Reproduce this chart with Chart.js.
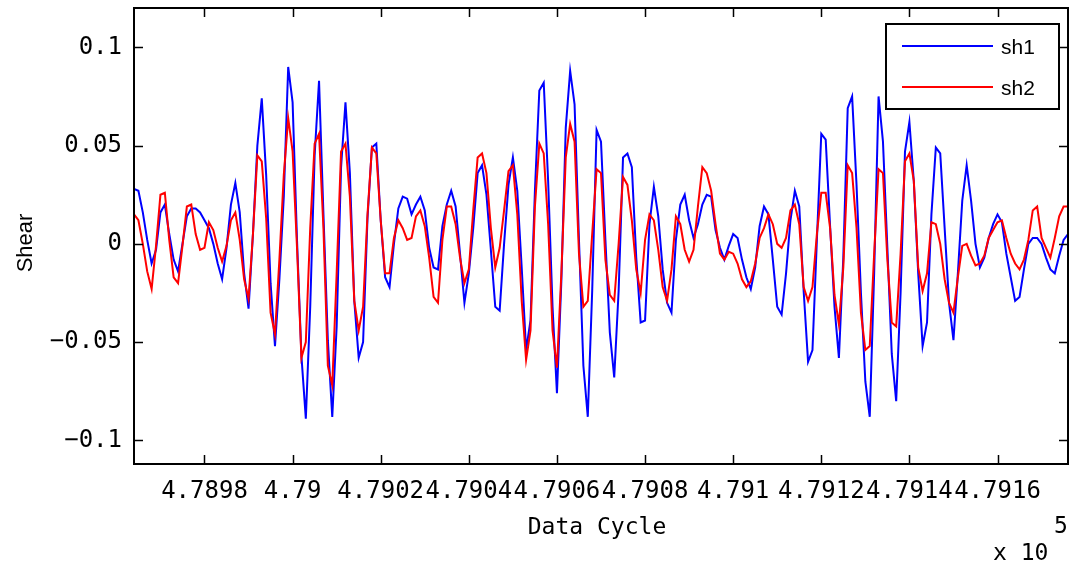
<!DOCTYPE html>
<html>
<head>
<meta charset="utf-8">
<script src="https://cdn.jsdelivr.net/npm/chart.js@4.4.1/dist/chart.umd.min.js"></script>
<style>
  html, body { margin: 0; padding: 0; background: #ffffff; }
  #wrap { width: 1070px; height: 572px; }
</style>
</head>
<body>
<div id="wrap"><canvas id="c" width="1070" height="572"></canvas></div>
<script>
// ---------- data ----------
const firstCycle = 478964;
const lastCycle = 479176;

const sh1 = [
  0.028, 0.027, 0.016, 0.002, -0.010, -0.003, 0.016, 0.020, 0.005, -0.008,
  -0.014, 0.000, 0.014, 0.018, 0.018, 0.016, 0.012, 0.008, 0.000, -0.010,
  -0.018, -0.002, 0.020, 0.031, 0.016, -0.015, -0.033, 0.005, 0.050, 0.074,
  0.035, -0.020, -0.052, -0.018, 0.024, 0.090, 0.072, 0.002, -0.057, -0.089,
  -0.032, 0.045, 0.083, 0.015, -0.049, -0.088, -0.042, 0.039, 0.072, 0.036,
  -0.029, -0.058, -0.050, 0.013, 0.049, 0.051, 0.012, -0.017, -0.022, 0.000,
  0.018, 0.024, 0.023, 0.015, 0.020, 0.024, 0.017, -0.002, -0.012, -0.013,
  0.009, 0.020, 0.027, 0.019, -0.005, -0.030, -0.015, 0.008, 0.036, 0.040,
  0.025, -0.003, -0.032, -0.034, 0.000, 0.030, 0.044, 0.027, -0.012, -0.054,
  -0.039, 0.027, 0.078, 0.082, 0.032, -0.032, -0.076, -0.019, 0.059, 0.088,
  0.071, 0.002, -0.062, -0.088, -0.024, 0.058, 0.052, 0.002, -0.045, -0.068,
  -0.024, 0.044, 0.046, 0.039, -0.007, -0.040, -0.039, 0.010, 0.029, 0.014,
  -0.013, -0.030, -0.035, 0.002, 0.020, 0.025, 0.012, 0.003, 0.010, 0.020,
  0.025, 0.024, 0.007, -0.002, -0.008, -0.001, 0.005, 0.003, -0.008, -0.017,
  -0.023, -0.012, 0.009, 0.019, 0.015, -0.008, -0.032, -0.036, -0.015, 0.012,
  0.027, 0.019, -0.024, -0.060, -0.054, 0.002, 0.056, 0.053, 0.009, -0.032,
  -0.058, -0.007, 0.069, 0.075, 0.030, -0.025, -0.070, -0.088, -0.015, 0.075,
  0.052, -0.002, -0.056, -0.080, -0.025, 0.047, 0.062, 0.032, -0.015, -0.052,
  -0.040, 0.015, 0.049, 0.046, 0.008, -0.030, -0.049, -0.015, 0.022, 0.040,
  0.022, 0.000, -0.012, -0.007, 0.003, 0.010, 0.015, 0.011, -0.005, -0.017,
  -0.029, -0.027, -0.013, 0.000, 0.003, 0.003, 0.000, -0.007, -0.013, -0.015,
  -0.006, 0.002, 0.005
];

const sh2 = [
  0.015, 0.012, 0.000, -0.014, -0.023, -0.001, 0.025, 0.026, 0.002, -0.017,
  -0.020, -0.001, 0.019, 0.020, 0.005, -0.003, -0.002, 0.011, 0.007, -0.002,
  -0.009, -0.001, 0.012, 0.016, 0.002, -0.018, -0.028, 0.005, 0.045, 0.042,
  0.013, -0.035, -0.046, -0.008, 0.035, 0.064, 0.047, -0.002, -0.058, -0.050,
  0.008, 0.051, 0.056, 0.008, -0.062, -0.072, -0.015, 0.047, 0.051, 0.024,
  -0.029, -0.044, -0.032, 0.015, 0.049, 0.046, 0.012, -0.015, -0.015, 0.003,
  0.012, 0.008, 0.002, 0.003, 0.014, 0.017, 0.009, -0.007, -0.027, -0.030,
  0.002, 0.019, 0.019, 0.010, -0.007, -0.020, -0.013, 0.017, 0.044, 0.046,
  0.036, 0.008, -0.012, -0.002, 0.017, 0.037, 0.040, 0.015, -0.029, -0.059,
  -0.044, 0.019, 0.051, 0.046, 0.010, -0.044, -0.063, -0.015, 0.044, 0.061,
  0.052, -0.005, -0.032, -0.029, 0.005, 0.038, 0.036, -0.008, -0.026, -0.029,
  0.000, 0.034, 0.030, 0.012, -0.013, -0.025, 0.002, 0.015, 0.012, -0.003,
  -0.022, -0.029, -0.013, 0.014, 0.010, -0.003, -0.009, -0.003, 0.019, 0.039,
  0.036, 0.027, 0.010, -0.005, -0.008, -0.004, -0.005, -0.010, -0.018, -0.022,
  -0.019, -0.010, 0.003, 0.008, 0.015, 0.010, 0.000, -0.002, 0.003, 0.017,
  0.020, 0.010, -0.022, -0.029, -0.022, 0.005, 0.026, 0.026, 0.008, -0.026,
  -0.041, -0.012, 0.040, 0.036, 0.008, -0.035, -0.054, -0.052, -0.005, 0.038,
  0.036, -0.008, -0.040, -0.042, -0.005, 0.042, 0.046, 0.032, -0.012, -0.024,
  -0.015, 0.011, 0.010, 0.000, -0.018, -0.030, -0.035, -0.017, -0.001, 0.000,
  -0.006, -0.011, -0.010, -0.006, 0.003, 0.007, 0.011, 0.012, 0.003, -0.005,
  -0.010, -0.013, -0.008, 0.002, 0.017, 0.019, 0.003, -0.002, -0.007, 0.003,
  0.014, 0.019, 0.019
];

const xTickValues = [478980, 479000, 479020, 479040, 479060, 479080, 479100, 479120, 479140, 479160];
const xTickLabels = ['4.7898', '4.79', '4.7902', '4.7904', '4.7906', '4.7908', '4.791', '4.7912', '4.7914', '4.7916'];
const yTickValues = [-0.1, -0.05, 0, 0.05, 0.1];
const yTickLabels = ['\u22120.1', '\u22120.05', '0', '0.05', '0.1'];
const seriesNames = ['sh1', 'sh2'];
const xTitle = 'Data Cycle';
const yTitle = 'Shear';
const exponentText = '5';
const multiplierText = 'x 10';

const cycles = sh1.map((_, i) => firstCycle + i);

// ---------- chart ----------
const MONO = '"DejaVu Sans Mono", "Liberation Mono", monospace';
const SANS = '"Liberation Sans", Arial, sans-serif';

const framePlugin = {
  id: 'matlabFrame',
  afterDatasetsDraw(chart) {
    const { ctx, chartArea: a, scales } = chart;
    ctx.save();
    ctx.strokeStyle = '#000';
    ctx.lineWidth = 1.5;
    // inward ticks
    const tl = 9;
    ctx.beginPath();
    xTickValues.forEach(v => {
      const px = Math.round(scales.x.getPixelForValue(v)) + 0.5;
      ctx.moveTo(px, a.bottom); ctx.lineTo(px, a.bottom - tl);
      ctx.moveTo(px, a.top); ctx.lineTo(px, a.top + tl);
    });
    yTickValues.forEach(v => {
      const py = Math.round(scales.y.getPixelForValue(v)) + 0.5;
      ctx.moveTo(a.left, py); ctx.lineTo(a.left + tl, py);
      ctx.moveTo(a.right, py); ctx.lineTo(a.right - tl, py);
    });
    ctx.stroke();
    // box
    ctx.lineWidth = 2;
    ctx.strokeRect(a.left, a.top, a.right - a.left, a.bottom - a.top);

    // legend
    const lx = 886, ly = 24, lw = 173, lh = 85;
    ctx.fillStyle = '#fff';
    ctx.fillRect(lx, ly, lw, lh);
    ctx.lineWidth = 2;
    ctx.strokeRect(lx, ly, lw, lh);
    const rows = [{ y: 46, color: chart.data.datasets[0].borderColor, name: seriesNames[0] },
                  { y: 87, color: chart.data.datasets[1].borderColor, name: seriesNames[1] }];
    rows.forEach(r => {
      ctx.strokeStyle = r.color;
      ctx.lineWidth = 2;
      ctx.beginPath();
      ctx.moveTo(902, r.y); ctx.lineTo(993, r.y);
      ctx.stroke();
      ctx.fillStyle = '#000';
      ctx.font = '21px ' + SANS;
      ctx.textAlign = 'left';
      ctx.textBaseline = 'middle';
      ctx.fillText(r.name, 1001, r.y + 2);
    });

    // axis titles
    ctx.fillStyle = '#000';
    ctx.font = '23px ' + MONO;
    ctx.textAlign = 'center';
    ctx.textBaseline = 'middle';
    ctx.fillText(xTitle, 597, 528);

    ctx.save();
    ctx.translate(26, 243);
    ctx.rotate(-Math.PI / 2);
    ctx.font = '22px ' + SANS;
    ctx.fillText(yTitle, 0, 0);
    ctx.restore();

    // exponent
    ctx.font = '23px ' + MONO;
    ctx.textAlign = 'left';
    ctx.fillText(multiplierText, 993, 554);
    ctx.fillText(exponentText, 1054, 527);
    ctx.restore();
  }
};

new Chart(document.getElementById('c'), {
  type: 'line',
  data: {
    labels: cycles,
    datasets: [
      {
        label: seriesNames[0],
        data: cycles.map((c, i) => ({ x: c, y: sh1[i] })),
        borderColor: '#0000ff',
        borderWidth: 2,
        pointRadius: 0,
        tension: 0,
        fill: false,
        order: 2
      },
      {
        label: seriesNames[1],
        data: cycles.map((c, i) => ({ x: c, y: sh2[i] })),
        borderColor: '#ff0000',
        borderWidth: 2,
        pointRadius: 0,
        tension: 0,
        fill: false,
        order: 1
      }
    ]
  },
  options: {
    responsive: false,
    maintainAspectRatio: false,
    devicePixelRatio: 1,
    animation: false,
    events: [],
    layout: { autoPadding: false, padding: { left: 0, right: 2, top: 8, bottom: 0 } },
    plugins: {
      legend: { display: false },
      tooltip: { enabled: false },
      title: { display: false }
    },
    scales: {
      x: {
        type: 'linear',
        min: firstCycle,
        max: lastCycle,
        afterBuildTicks(scale) { scale.ticks = xTickValues.map(v => ({ value: v })); },
        afterFit(scale) { scale.height = 108; scale.paddingLeft = 0; scale.paddingRight = 0; },
        grid: { display: false, drawTicks: false },
        border: { display: false },
        ticks: {
          autoSkip: false,
          maxRotation: 0,
          minRotation: 0,
          padding: 13,
          color: '#000',
          font: { family: MONO, size: 24 },
          callback(value) {
            const k = xTickValues.indexOf(value);
            return k >= 0 ? xTickLabels[k] : '';
          }
        }
      },
      y: {
        type: 'linear',
        min: -0.112,
        max: 0.12,
        afterBuildTicks(scale) { scale.ticks = yTickValues.map(v => ({ value: v })); },
        afterFit(scale) { scale.width = 134; scale.paddingTop = 0; scale.paddingBottom = 0; },
        grid: { display: false, drawTicks: false },
        border: { display: false },
        ticks: {
          autoSkip: false,
          padding: 12,
          color: '#000',
          font: { family: MONO, size: 24 },
          callback(value) {
            const k = yTickValues.findIndex(v => Math.abs(v - value) < 1e-9);
            return k >= 0 ? yTickLabels[k] : '';
          }
        }
      }
    }
  },
  plugins: [framePlugin]
});
</script>
</body>
</html>
